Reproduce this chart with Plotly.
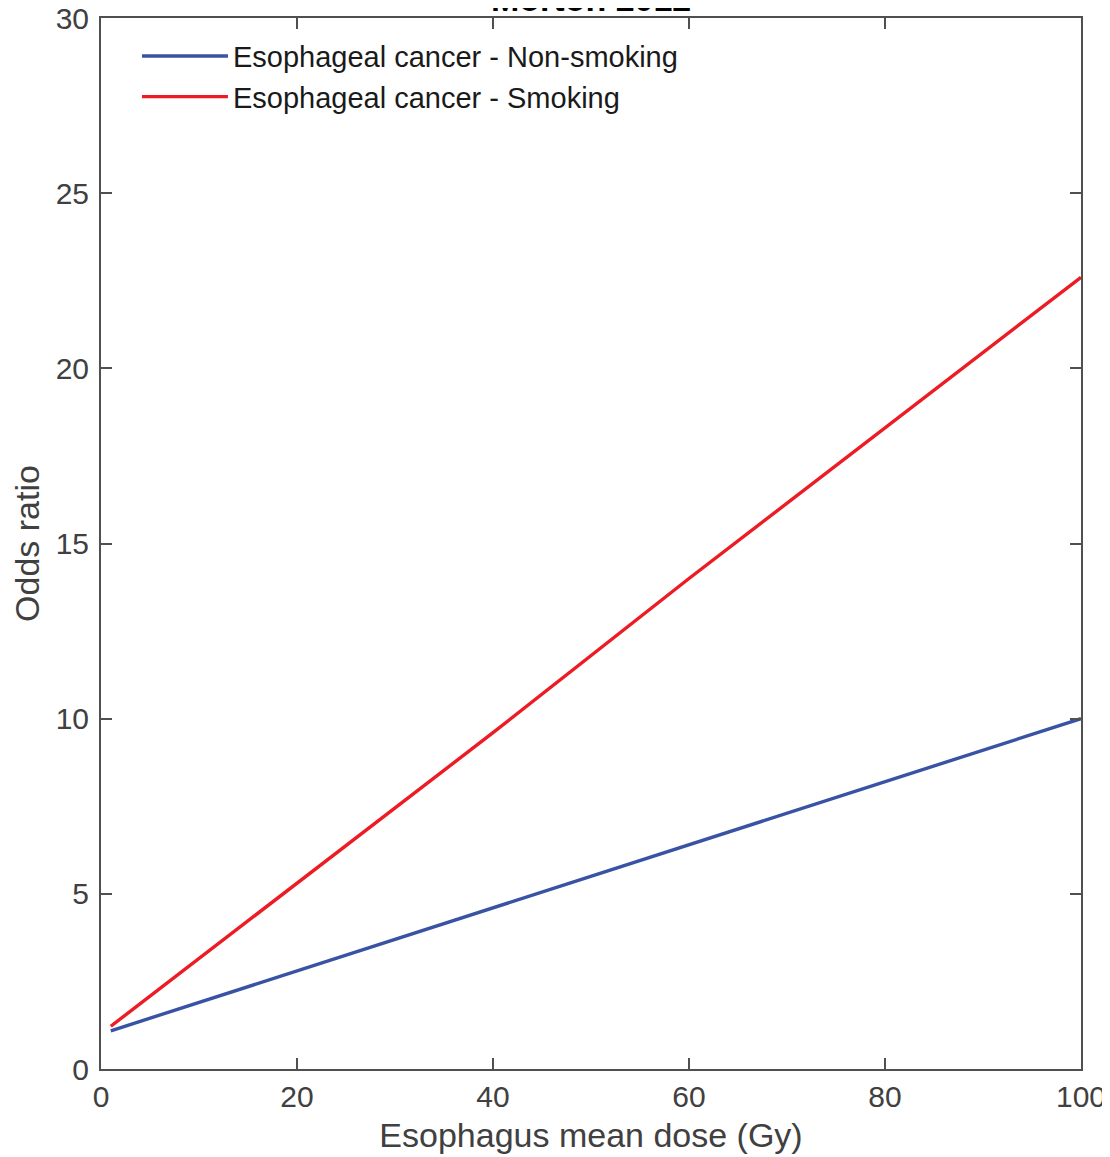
import plotly.graph_objects as go

dose = [1, 20, 40, 60, 80, 100]
or_nonsmoking = [1.09, 2.8, 4.6, 6.4, 8.2, 10.0]
or_smoking = [1.22, 5.3, 9.6, 14.0, 18.3, 22.6]

names = ["Esophageal cancer - Non-smoking", "Esophageal cancer - Smoking"]
colors = ["#3953A4", "#ED1C24"]

x_ticks = [0, 20, 40, 60, 80, 100]
y_ticks = [0, 5, 10, 15, 20, 25, 30]

FONT = "Liberation Sans, Arial, Helvetica, sans-serif"
AX = "#505050"

fig = go.Figure()
for ys, nm, c in zip([or_nonsmoking, or_smoking], names, colors):
    fig.add_trace(go.Scatter(x=dose, y=ys, mode="lines", name=nm,
                             line=dict(color=c, width=3.4)))

axis_common = dict(showline=True, linecolor=AX, linewidth=2, mirror="ticks",
                   ticks="inside", ticklen=11, tickwidth=2, tickcolor=AX,
                   showgrid=False, zeroline=False, automargin=False,
                   ticklabeloverflow="allow",
                   tickfont=dict(family=FONT, size=30, color="#404040"))

fig.update_layout(
    width=1102, height=1149,
    margin=dict(l=93, r=29, t=10, b=88),
    paper_bgcolor="white", plot_bgcolor="white",
    showlegend=True,
    legend=dict(x=0.0367, y=0.988, xanchor="left", yanchor="top",
                bgcolor="rgba(0,0,0,0)", borderwidth=0,
                font=dict(family=FONT, size=29, color="#1a1a1a"),
                itemwidth=86, tracegroupgap=0),
    xaxis=dict(range=[0, 100], tickvals=x_ticks, ticktext=[str(v) for v in x_ticks],
               title=dict(text="Esophagus mean dose (Gy)", standoff=11,
                          font=dict(family=FONT, size=34, color="#404040")),
               **axis_common),
    yaxis=dict(range=[0, 30], tickvals=y_ticks, ticktext=[str(v) for v in y_ticks],
               ticklabelstandoff=4,
               title=dict(text="Odds ratio", standoff=6,
                          font=dict(family=FONT, size=34, color="#404040")),
               **axis_common),
    annotations=[dict(text="<b>Morton 2012</b>", x=0.5, y=1, xref="paper", yref="paper",
                      xanchor="center", yanchor="bottom", yshift=-2, showarrow=False,
                      font=dict(family=FONT, size=34, color="#000000"))],
)

fig.write_html("out.html")
